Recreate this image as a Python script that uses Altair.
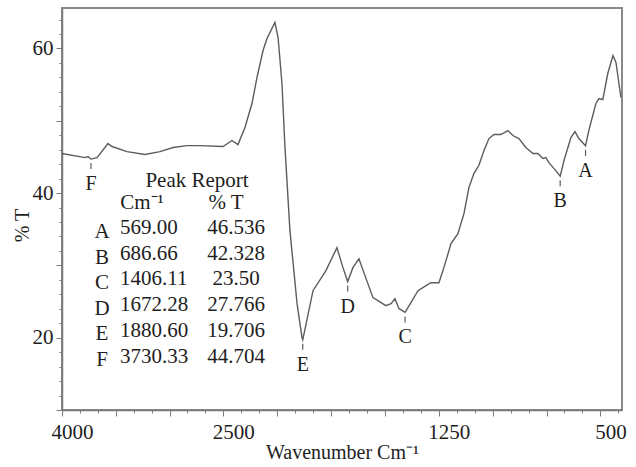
import altair as alt
import pandas as pd

# FTIR spectrum trace: wavenumber (cm-1) vs transmittance (%T)
wavenumber = [4000, 3786, 3758, 3730.33, 3674, 3572, 3535, 3395, 3228, 3088,
              2967, 2837, 2716, 2502, 2419, 2363, 2298, 2233, 2186, 2130,
              2093, 2019, 1995, 1977, 1963, 1940, 1907, 1884, 1880.60, 1833,
              1773, 1722, 1694, 1672.28, 1648, 1620, 1597, 1555, 1532, 1495,
              1471, 1453, 1434, 1406.11, 1379, 1346, 1309, 1286, 1249, 1226,
              1193, 1161, 1133, 1110, 1087, 1064, 1040, 1017, 994, 962,
              929, 906, 878, 846, 813, 790, 767, 753, 739, 707,
              686.66, 669, 637, 618, 600, 569.00, 554, 521, 507, 489,
              466, 442, 428, 405]
transmittance = [45.47, 44.91, 45.05, 44.704, 44.91, 46.85, 46.44, 45.74, 45.33, 45.74,
                 46.30, 46.57, 46.57, 46.44, 47.27, 46.71, 49.07, 52.39, 55.99, 59.72,
                 61.38, 63.60, 61.52, 55.16, 46.30, 34.81, 24.71, 20.0, 19.706, 26.50,
                 29.27, 32.46, 29.69, 27.766, 29.69, 30.93, 29.00, 25.54, 25.12, 24.43,
                 24.71, 25.40, 24.01, 23.50, 24.84, 26.50, 27.20, 27.61, 27.61, 29.69,
                 33.01, 34.39, 37.16, 40.76, 42.70, 43.81, 45.88, 47.54, 48.10, 48.10,
                 48.65, 47.96, 47.54, 46.30, 45.47, 45.47, 44.78, 44.91, 44.22, 43.11,
                 42.328, 44.50, 47.68, 48.51, 47.54, 46.536, 48.65, 52.39, 53.08, 52.94,
                 56.54, 59.03, 58.06, 53.22]

# peak report
peak_letter = ["A", "B", "C", "D", "E", "F"]
peak_wn = [569.00, 686.66, 1406.11, 1672.28, 1880.60, 3730.33]
peak_pct = [46.536, 42.328, 23.50, 27.766, 19.706, 44.704]
peak_wn_text = ["569.00", "686.66", "1406.11", "1672.28", "1880.60", "3730.33"]
peak_pct_text = ["46.536", "42.328", "23.50", "27.766", "19.706", "44.704"]
report_title = ["Peak Report"]
report_columns = ["Cm⁻¹", "% T"]

# axis ticks
x_major = [4000, 3500, 3000, 2500, 2000, 1750, 1500, 1250, 1000, 750, 500]
x_labels = [4000, 2500, 1250, 500]
x_ticks = ([round(4000 - i * 500 / 3, 2) for i in range(13)] +
           [round(2000 - i * 250 / 3, 2) for i in range(1, 20)])
y_ticks = list(range(10, 66, 2))
y_labels = [20, 40, 60]

spectrum = pd.DataFrame({"wn": wavenumber, "pct": transmittance})
peaks = pd.DataFrame({
    "letter": peak_letter, "wn": peak_wn, "pct": peak_pct,
    "wn_text": peak_wn_text, "pct_text": peak_pct_text,
    "row": list(range(len(peak_letter))),
})

FONT = "Liberation Serif"
INK = "#1e1e1e"
GREY = "#7a7a7a"

# FTIR convention: 4000-2000 drawn at half the scale of 2000-400
x_scale = alt.Scale(domain=[4000, 2000, 400], range=[0, 215, 560], nice=False, zero=False)
y_scale = alt.Scale(domain=[10, 65.6], nice=False, zero=False)

x_axis = alt.Axis(
    values=x_ticks, tickCount=200,
    labelExpr="indexof(%s, datum.value) >= 0 ? format(datum.value, 'd') : ''" % x_labels,
    tickSize={"condition": {"test": "indexof(%s, datum.value) >= 0" % x_major, "value": 6},
              "value": 3},
    grid=False, labelFlush=False, labelOverlap=False, labelBound=False,
    labelOffset=10, labelPadding=5,
    labelFont=FONT, labelFontSize=21, labelColor=INK,
    title="Wavenumber Cm⁻¹", titleFont=FONT, titleFontSize=20, titleFontWeight="normal",
    titleColor=INK, titleY=42, titleBaseline="middle",
    domainColor=GREY, domainWidth=1.5, tickColor=GREY,
)
y_axis = alt.Axis(
    values=y_ticks, tickCount=200,
    labelExpr="indexof(%s, datum.value) >= 0 ? format(datum.value, 'd') : ''" % y_labels,
    tickSize={"condition": {"test": "datum.value % 10 === 0", "value": 6}, "value": 3},
    grid=False, labelFlush=False, labelOverlap=False, labelPadding=3,
    labelFont=FONT, labelFontSize=21, labelColor=INK,
    title="% T", titleFont=FONT, titleFontSize=20, titleFontWeight="normal",
    titleColor=INK, titleX=-40, titleY=217, titleBaseline="middle", titleAngle=-90,
    domainColor=GREY, domainWidth=1.5, tickColor=GREY,
)

curve = alt.Chart(spectrum).mark_line(color="#5c5c5c", strokeWidth=1.4).encode(
    x=alt.X("wn:Q", scale=x_scale, axis=x_axis),
    y=alt.Y("pct:Q", scale=y_scale, axis=y_axis),
    order="wn:Q",
)

base = alt.Chart(peaks)

peak_marks = base.mark_rule(color="#5c5c5c", strokeWidth=1.2, yOffset=4, y2Offset=10).encode(
    x="wn:Q", y="pct:Q", y2="pct:Q",
)
peak_names = base.mark_text(font=FONT, fontSize=20, color=INK, dy=25).encode(
    x="wn:Q", y="pct:Q", text="letter:N",
)

# peak report table, one row per peak
table = base.transform_calculate(
    ty="220 + datum.row * 25.7", ly="224 + datum.row * 25.5"
)
tab_letter = table.mark_text(font=FONT, fontSize=21, color=INK, align="center").encode(
    x=alt.value(40), y=alt.Y("ly:Q", scale=None), text="letter:N",
)
tab_wn = table.mark_text(font=FONT, fontSize=21, color=INK, align="left").encode(
    x=alt.value(58), y=alt.Y("ty:Q", scale=None), text="wn_text:N",
)
tab_pct = table.mark_text(font=FONT, fontSize=21, color=INK, align="center").encode(
    x=alt.value(174), y=alt.Y("ty:Q", scale=None), text="pct_text:N",
)

title_df = pd.DataFrame({"t": report_title})
cols_df = pd.DataFrame({"t": report_columns, "col": [0, 1]})

head_title = alt.Chart(title_df).mark_text(font=FONT, fontSize=21, color=INK).encode(
    x=alt.value(135), y=alt.value(173), text="t:N",
)
head_cols = alt.Chart(cols_df).transform_calculate(
    cx="datum.col === 0 ? 80 : 164"
).mark_text(font=FONT, fontSize=21, color=INK).encode(
    x=alt.X("cx:Q", scale=None), y=alt.value(195), text="t:N",
)

chart = alt.layer(
    curve, peak_marks, peak_names, tab_letter, tab_wn, tab_pct,
    head_title, head_cols,
).properties(
    width=560, height=402,
    autosize="none",
    padding={"left": 62, "top": 8, "right": 14, "bottom": 57},
    background="white",
).configure_view(stroke="#8a8a8a", strokeWidth=2)

chart.save("out.html", embed_options={"renderer": "svg", "actions": False})
